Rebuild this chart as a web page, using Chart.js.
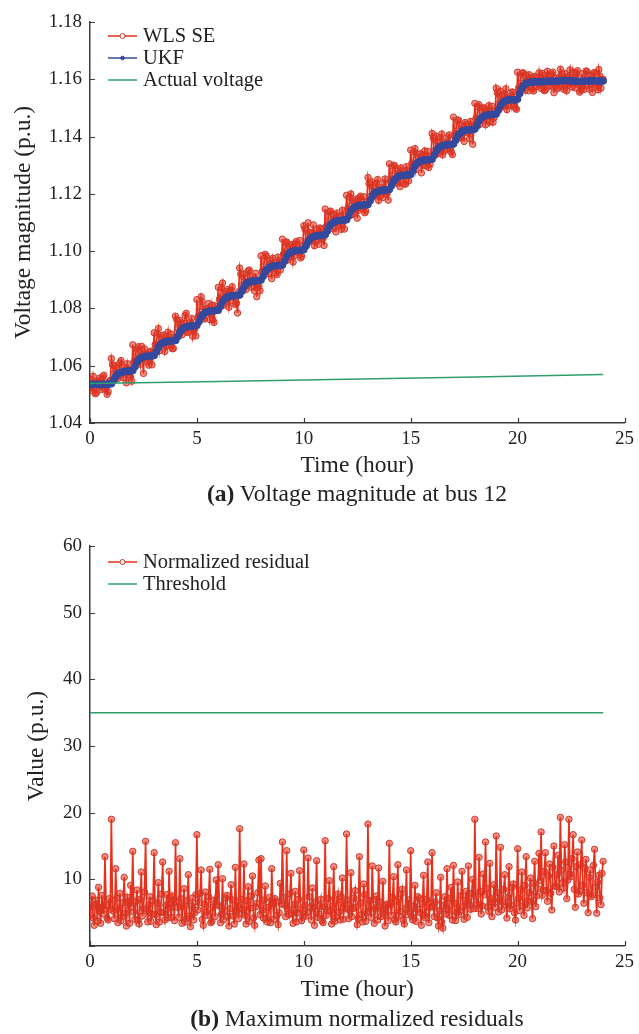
<!DOCTYPE html>
<html>
<head>
<meta charset="utf-8">
<script src="https://cdn.jsdelivr.net/npm/chart.js@4.4.1/dist/chart.umd.min.js"></script>
<style>
  body { margin: 0; background: #fff; width: 639px; height: 1034px; position: relative; overflow: hidden;
         font-family: "Liberation Serif", "Times New Roman", serif; color: #222; }
  canvas { position: absolute; left: 0; }
  #voltChart { top: 0; }
  #resChart { top: 500px; }
  .cap { position: absolute; left: 107px; width: 500px; text-align: center; font-size: 23.5px; line-height: 24px; }
</style>
</head>
<body>
<canvas id="voltChart" width="639" height="482"></canvas>
<div class="cap" style="top:481px"><b>(a)</b> Voltage magnitude at bus 12</div>
<canvas id="resChart" width="639" height="506"></canvas>
<div class="cap" style="top:1006px"><b>(b)</b> Maximum normalized residuals</div>
<script>
// sampling grids (hours): measurements every 0.05 h, UKF every 0.1 h
const fineHours = Array.from({ length: 481 }, (_, i) => i / 20);
const hours = Array.from({ length: 241 }, (_, i) => i / 10);

// WLS state estimate at bus 12 (p.u.), one row per hour
const wlsSe = [
  1.0553,1.0523,1.0513,1.0563,1.0540,1.0502,1.0505,1.0543,1.0547,1.0557,1.0527,1.0517,1.0560,1.0567,1.0520,1.0529,1.0500,1.0509,1.0545,1.0549,
  1.0625,1.0604,1.0570,1.0550,1.0600,1.0592,1.0555,1.0564,1.0610,1.0618,1.0575,1.0558,1.0595,1.0584,1.0540,1.0607,1.0588,1.0567,1.0560,1.0546,
  1.0673,1.0613,1.0618,1.0648,1.0658,1.0666,1.0628,1.0605,1.0668,1.0639,1.0573,1.0659,1.0643,1.0624,1.0613,1.0602,1.0648,1.0651,1.0603,1.0635,
  1.0715,1.0673,1.0665,1.0713,1.0730,1.0652,1.0675,1.0693,1.0705,1.0707,1.0650,1.0667,1.0690,1.0717,1.0670,1.0679,1.0710,1.0659,1.0660,1.0699,
  1.0773,1.0762,1.0733,1.0708,1.0758,1.0750,1.0708,1.0722,1.0748,1.0776,1.0783,1.0716,1.0718,1.0742,1.0753,1.0765,1.0703,1.0725,1.0728,1.0704,
  1.0831,1.0771,1.0776,1.0806,1.0841,1.0824,1.0766,1.0763,1.0801,1.0797,1.0786,1.0817,1.0761,1.0782,1.0811,1.0760,1.0751,1.0809,1.0796,1.0793,
  1.0874,1.0832,1.0834,1.0872,1.0889,1.0811,1.0819,1.0852,1.0859,1.0866,1.0804,1.0826,1.0864,1.0876,1.0839,1.0838,1.0814,1.0818,1.0784,1.0858,
  1.0941,1.0920,1.0881,1.0866,1.0921,1.0908,1.0866,1.0880,1.0931,1.0934,1.0891,1.0874,1.0911,1.0900,1.0861,1.0923,1.0841,1.0883,1.0876,1.0862,
  1.0984,1.0929,1.0929,1.0964,1.0989,1.0982,1.0939,1.0921,1.0969,1.0955,1.0904,1.0975,1.0959,1.0940,1.0924,1.0918,1.0979,1.0967,1.0934,1.0951,
  1.1042,1.0990,1.0992,1.1030,1.1032,1.0969,1.0977,1.1010,1.1017,1.1024,1.0962,1.0984,1.1027,1.1034,1.0997,1.0996,1.1037,1.0976,1.0982,1.1016,
  1.1089,1.1078,1.1034,1.1024,1.1099,1.1066,1.1039,1.1038,1.1064,1.1092,1.1019,1.1032,1.1074,1.1058,1.1024,1.1081,1.1079,1.1041,1.1044,1.1020,
  1.1147,1.1087,1.1082,1.1122,1.1137,1.1140,1.1097,1.1079,1.1127,1.1113,1.1067,1.1133,1.1122,1.1098,1.1087,1.1076,1.1142,1.1125,1.1077,1.1109,
  1.1195,1.1148,1.1145,1.1188,1.1200,1.1127,1.1130,1.1168,1.1175,1.1182,1.1115,1.1142,1.1185,1.1192,1.1150,1.1154,1.1190,1.1134,1.1140,1.1174,
  1.1257,1.1236,1.1192,1.1182,1.1242,1.1224,1.1197,1.1196,1.1237,1.1250,1.1177,1.1190,1.1222,1.1216,1.1187,1.1239,1.1252,1.1199,1.1202,1.1178,
  1.1305,1.1245,1.1250,1.1280,1.1300,1.1298,1.1240,1.1237,1.1285,1.1271,1.1225,1.1291,1.1280,1.1256,1.1235,1.1234,1.1295,1.1283,1.1245,1.1267,
  1.1353,1.1306,1.1293,1.1346,1.1358,1.1285,1.1308,1.1326,1.1338,1.1340,1.1273,1.1300,1.1333,1.1350,1.1298,1.1312,1.1348,1.1292,1.1303,1.1332,
  1.1411,1.1395,1.1351,1.1341,1.1401,1.1383,1.1341,1.1355,1.1396,1.1409,1.1336,1.1349,1.1381,1.1375,1.1356,1.1398,1.1406,1.1358,1.1346,1.1337,
  1.1468,1.1403,1.1408,1.1438,1.1458,1.1456,1.1398,1.1395,1.1438,1.1429,1.1383,1.1449,1.1443,1.1414,1.1413,1.1392,1.1453,1.1441,1.1373,1.1425,
  1.1516,1.1464,1.1456,1.1504,1.1511,1.1443,1.1461,1.1484,1.1501,1.1498,1.1441,1.1458,1.1491,1.1508,1.1451,1.1470,1.1506,1.1450,1.1466,1.1490,
  1.1569,1.1553,1.1514,1.1499,1.1559,1.1541,1.1504,1.1513,1.1549,1.1567,1.1494,1.1507,1.1539,1.1533,1.1509,1.1556,1.1554,1.1516,1.1499,1.1495,
  1.1625,1.1570,1.1570,1.1605,1.1620,1.1623,1.1580,1.1562,1.1615,1.1596,1.1560,1.1616,1.1605,1.1581,1.1565,1.1559,1.1610,1.1608,1.1575,1.1592,
  1.1623,1.1581,1.1568,1.1621,1.1613,1.1560,1.1563,1.1601,1.1628,1.1615,1.1578,1.1575,1.1618,1.1625,1.1553,1.1587,1.1603,1.1567,1.1573,1.1607,
  1.1635,1.1619,1.1575,1.1565,1.1620,1.1607,1.1560,1.1579,1.1610,1.1633,1.1585,1.1573,1.1625,1.1599,1.1570,1.1622,1.1630,1.1582,1.1555,1.1561,
  1.1619,1.1574,1.1564,1.1609,1.1629,1.1627,1.1579,1.1566,1.1614,1.1600,1.1554,1.1620,1.1624,1.1585,1.1574,1.1563,1.1634,1.1612,1.1569,1.1596,
  1.1600
];

// UKF estimate (p.u.), one row per hour
const ukf = [
  1.0535,1.0535,1.0534,1.0535,1.0535,1.0534,1.0535,1.0535,1.0535,1.0536,
  1.0537,1.0549,1.0562,1.0571,1.0575,1.0578,1.0580,1.0580,1.0581,1.0582,
  1.0583,1.0596,1.0612,1.0622,1.0628,1.0630,1.0633,1.0633,1.0634,1.0635,
  1.0636,1.0649,1.0664,1.0675,1.0680,1.0682,1.0685,1.0685,1.0686,1.0687,
  1.0688,1.0701,1.0717,1.0727,1.0733,1.0735,1.0738,1.0738,1.0739,1.0740,
  1.0741,1.0754,1.0770,1.0780,1.0786,1.0788,1.0791,1.0791,1.0792,1.0793,
  1.0794,1.0807,1.0823,1.0833,1.0839,1.0841,1.0844,1.0844,1.0845,1.0846,
  1.0847,1.0860,1.0875,1.0885,1.0891,1.0893,1.0896,1.0896,1.0897,1.0898,
  1.0899,1.0912,1.0928,1.0938,1.0944,1.0946,1.0949,1.0949,1.0950,1.0951,
  1.0952,1.0965,1.0981,1.0991,1.0997,1.0999,1.1002,1.1002,1.1003,1.1004,
  1.1005,1.1018,1.1033,1.1043,1.1049,1.1051,1.1054,1.1054,1.1055,1.1056,
  1.1057,1.1070,1.1086,1.1096,1.1102,1.1104,1.1107,1.1107,1.1108,1.1109,
  1.1110,1.1123,1.1139,1.1149,1.1155,1.1157,1.1160,1.1160,1.1161,1.1162,
  1.1163,1.1176,1.1191,1.1201,1.1207,1.1209,1.1212,1.1212,1.1213,1.1214,
  1.1215,1.1228,1.1244,1.1254,1.1260,1.1262,1.1265,1.1265,1.1266,1.1267,
  1.1268,1.1281,1.1297,1.1307,1.1313,1.1315,1.1318,1.1318,1.1319,1.1320,
  1.1321,1.1334,1.1350,1.1360,1.1366,1.1368,1.1371,1.1371,1.1372,1.1373,
  1.1374,1.1387,1.1402,1.1412,1.1418,1.1420,1.1423,1.1423,1.1424,1.1425,
  1.1426,1.1439,1.1455,1.1465,1.1471,1.1473,1.1476,1.1476,1.1477,1.1478,
  1.1479,1.1492,1.1508,1.1518,1.1524,1.1526,1.1529,1.1529,1.1528,1.1528,
  1.1531,1.1550,1.1568,1.1580,1.1586,1.1588,1.1590,1.1590,1.1591,1.1591,
  1.1591,1.1592,1.1592,1.1592,1.1593,1.1593,1.1593,1.1593,1.1594,1.1594,
  1.1595,1.1595,1.1596,1.1596,1.1595,1.1594,1.1594,1.1593,1.1593,1.1593,
  1.1593,1.1593,1.1594,1.1594,1.1595,1.1595,1.1595,1.1594,1.1594,1.1594,
  1.1594
];

// actual voltage, read at a few hours
const actualHours = [0, 6, 12, 18, 24];
const actualVoltage = [1.0538, 1.0545, 1.0553, 1.0561, 1.0569];

// maximum normalized residual, one row per hour
const residual = [
  4.6,5.8,7.5,4.2,3.1,6.9,6.3,3.7,8.8,5.2,3.4,7.6,5.9,4.8,13.4,6.1,4.2,3.9,7.1,5.5,
  19.0,6.3,5.2,4.1,11.6,7.2,3.5,5.6,7.9,3.8,4.4,6.5,10.3,4.9,3.0,7.3,6.6,3.4,9.1,5.9,
  14.2,5.1,4.0,6.7,8.4,3.9,3.3,7.0,11.1,4.5,5.6,8.1,15.7,5.3,3.6,6.2,7.4,3.7,4.8,6.8,
  14.0,4.7,3.2,6.4,9.5,3.6,5.1,7.8,12.6,5.0,3.9,6.1,7.7,4.2,11.2,5.7,4.3,7.5,6.9,3.8,
  15.5,6.6,5.8,4.3,13.1,7.1,3.4,5.9,8.6,3.6,4.1,6.8,10.7,4.5,2.9,6.0,7.2,3.9,5.0,7.7,
  16.7,5.4,6.5,7.9,11.4,4.0,3.1,6.3,8.1,5.1,4.6,7.4,11.5,3.5,3.7,5.8,6.8,4.4,9.9,6.2,
  12.2,6.0,3.5,4.8,10.1,3.9,5.3,7.2,7.6,4.4,3.0,5.6,9.2,6.9,4.5,3.3,11.8,5.2,6.0,4.1,
  17.6,7.0,4.9,5.5,12.3,4.6,3.3,6.8,8.9,3.7,5.7,7.5,10.5,4.2,3.1,5.9,6.4,8.0,12.9,4.7,
  13.1,5.3,4.2,6.9,9.0,4.1,3.6,5.8,7.3,3.5,11.6,6.4,4.0,7.1,6.7,4.6,3.2,5.0,9.4,6.3,
  15.6,7.3,6.1,4.4,14.3,5.6,4.7,7.8,10.9,4.9,3.4,6.2,8.2,3.6,5.0,7.0,11.3,5.5,3.8,4.3,
  14.4,6.1,4.5,5.0,13.2,7.4,5.9,3.9,8.7,5.7,3.1,6.6,12.8,4.3,4.8,6.0,7.0,3.8,3.5,5.9,
  15.8,4.6,5.4,7.1,9.8,5.2,3.3,6.0,11.9,3.7,4.3,6.8,7.8,5.1,3.9,7.4,10.2,4.0,6.2,5.6,
  16.8,6.9,4.1,5.3,11.0,4.4,5.6,7.2,8.3,5.8,3.2,4.1,13.4,6.5,4.7,3.6,9.3,7.7,3.7,5.0,
  18.3,5.2,6.8,4.3,12.0,7.0,3.4,5.7,7.5,3.9,11.7,6.6,4.4,5.4,9.7,4.8,3.0,6.1,6.3,3.8,
  15.4,6.2,4.6,7.3,10.4,4.0,3.6,6.7,12.2,4.5,5.2,7.8,8.5,3.9,3.3,5.6,11.4,4.7,6.9,5.1,
  14.3,4.4,3.9,6.0,9.1,3.7,5.5,7.4,7.1,5.0,3.1,6.3,10.6,4.6,4.2,7.0,12.6,3.5,5.8,6.5,
  14.0,5.9,4.4,6.6,8.0,4.2,3.0,5.3,10.3,3.6,2.7,6.1,7.4,4.8,11.6,5.5,4.6,7.2,8.8,3.9,
  12.1,6.4,3.8,5.0,9.6,4.7,5.2,7.5,11.2,5.9,4.0,6.8,8.2,4.3,12.0,6.2,5.5,7.9,10.0,5.6,
  19.0,7.4,6.3,5.6,13.3,8.2,4.8,6.0,10.8,7.7,15.6,8.6,5.9,5.2,12.4,7.1,4.4,6.5,9.2,5.8,
  16.5,8.0,5.1,6.9,14.8,5.4,6.6,8.5,10.7,6.2,4.2,7.3,11.9,5.6,6.1,8.8,9.3,5.0,3.9,6.4,
  14.6,7.2,5.3,8.4,11.1,6.0,4.6,9.1,13.4,5.7,6.8,8.0,10.2,6.6,4.1,9.4,12.7,5.9,7.5,8.6,
  13.9,9.8,17.1,7.6,8.4,11.2,14.0,8.3,6.7,10.5,12.3,7.9,5.4,11.8,15.0,9.0,8.9,10.7,13.6,8.1,
  19.3,11.4,9.5,8.7,15.2,12.6,7.1,9.9,19.0,10.8,10.4,13.1,16.7,8.5,5.8,11.9,14.1,7.8,8.2,12.2,
  15.9,9.1,6.4,11.7,13.0,8.0,5.0,10.3,11.4,7.4,7.7,12.1,14.5,8.8,4.9,9.6,10.6,7.2,6.2,10.9,
  12.7
];

const thresholdHours = [0, 24];
const thresholdValue = [35, 35];

const xTicks = [0, 5, 10, 15, 20, 25];
const voltTicks = [1.04, 1.06, 1.08, 1.10, 1.12, 1.14, 1.16, 1.18];
const resTicks = [0, 10, 20, 30, 40, 50, 60];

const AXIS = '#3a3a3a';
const SERIF = '"Liberation Serif", "Times New Roman", serif';
const RED = '#e8301a', RED_EDGE = '#cc3a2e', RED_FILL = 'rgba(232,48,26,0.55)';
const BLUE = '#34489c', GREEN = '#2f9e6b';

const pts = (xs, ys) => ys.map((v, i) => ({ x: xs[i], y: v }));

// ticks drawn inward from the axis lines
const inwardTicks = {
  id: 'inwardTicks',
  afterDraw(chart) {
    const { ctx, chartArea, scales } = chart;
    ctx.save();
    ctx.strokeStyle = AXIS;
    ctx.lineWidth = 1.2;
    ctx.beginPath();
    scales.x.ticks.forEach(t => {
      const px = Math.round(scales.x.getPixelForValue(t.value)) + 0.5;
      ctx.moveTo(px, chartArea.bottom);
      ctx.lineTo(px, chartArea.bottom - 5);
    });
    scales.y.ticks.forEach(t => {
      const py = Math.round(scales.y.getPixelForValue(t.value)) + 0.5;
      ctx.moveTo(chartArea.left, py);
      ctx.lineTo(chartArea.left + 5, py);
    });
    ctx.stroke();
    ctx.restore();
  }
};

// legend in the upper left of the plot
const innerLegend = {
  id: 'innerLegend',
  afterDraw(chart, args, opts) {
    const { ctx, chartArea } = chart;
    const x0 = chartArea.left + 18, x1 = chartArea.left + 47;
    ctx.save();
    ctx.font = '20.5px ' + SERIF;
    ctx.textBaseline = 'middle';
    chart.data.datasets.forEach((ds, i) => {
      const y = chartArea.top + opts.top + i * opts.gap;
      ctx.strokeStyle = ds.borderColor;
      ctx.lineWidth = 1.5;
      ctx.beginPath();
      ctx.moveTo(x0, y); ctx.lineTo(x1, y);
      ctx.stroke();
      if (ds.pointRadius > 0) {
        const hollow = ds.pointRadius > 2;
        ctx.beginPath();
        ctx.arc((x0 + x1) / 2, y, hollow ? 2.5 : 1.8, 0, Math.PI * 2);
        ctx.fillStyle = hollow ? '#fff' : ds.borderColor;
        ctx.fill();
        ctx.lineWidth = 1;
        ctx.strokeStyle = ds.pointBorderColor || ds.borderColor;
        ctx.stroke();
      }
      ctx.fillStyle = '#222';
      ctx.fillText(ds.label, x1 + 6, y + 1);
    });
    ctx.restore();
  }
};

function makeOptions(cfg) {
  return {
    responsive: false,
    animation: false,
    layout: { padding: { top: cfg.padTop, right: 14, left: 0, bottom: 0 } },
    plugins: {
      legend: { display: false },
      tooltip: { enabled: false },
      innerLegend: { top: cfg.legendTop, gap: cfg.legendGap }
    },
    scales: {
      x: {
        type: 'linear', min: 0, max: 25,
        afterBuildTicks: s => { s.ticks = xTicks.map(v => ({ value: v })); },
        afterFit: s => { s.height = cfg.xHeight; },
        grid: { display: false, drawTicks: false },
        border: { display: true, color: AXIS, width: 1.5 },
        ticks: { color: '#222', font: { family: SERIF, size: 19 }, padding: 5, maxRotation: 0 },
        title: { display: true, text: 'Time (hour)', color: '#222',
                 font: { family: SERIF, size: 23.5 }, padding: { top: 0, bottom: 2 } }
      },
      y: {
        type: 'linear', min: cfg.ymin, max: cfg.ymax,
        afterBuildTicks: s => { s.ticks = cfg.yTicks.map(v => ({ value: v })); },
        afterFit: s => { s.width = 90; },
        grid: { display: false, drawTicks: false },
        border: { display: true, color: AXIS, width: 1.5 },
        ticks: { color: '#222', font: { family: SERIF, size: 19 }, padding: 8, callback: cfg.yFmt },
        title: { display: true, text: cfg.yTitle, color: '#222',
                 font: { family: SERIF, size: 23.5 }, padding: { top: cfg.yTitlePad, bottom: 0 } }
      }
    }
  };
}

new Chart(document.getElementById('voltChart'), {
  type: 'line',
  data: {
    datasets: [
      { label: 'WLS SE', data: pts(fineHours, wlsSe), borderColor: RED, borderWidth: 1.7,
        pointRadius: 3.2, pointBorderColor: RED_EDGE, pointBackgroundColor: RED_FILL,
        pointBorderWidth: 1, order: 3 },
      { label: 'UKF', data: pts(hours, ukf), borderColor: BLUE, borderWidth: 4,
        pointRadius: 1.8, pointBackgroundColor: BLUE, pointBorderColor: BLUE, order: 2 },
      { label: 'Actual voltage', data: pts(actualHours, actualVoltage), borderColor: GREEN,
        borderWidth: 1.5, pointRadius: 0, order: 1 }
    ]
  },
  options: makeOptions({
    padTop: 22, xHeight: 59, ymin: 1.04, ymax: 1.18, yTicks: voltTicks,
    yFmt: v => v.toFixed(2), yTitle: 'Voltage magnitude (p.u.)', yTitlePad: 10,
    legendTop: 14, legendGap: 22
  }),
  plugins: [inwardTicks, innerLegend]
});

new Chart(document.getElementById('resChart'), {
  type: 'line',
  data: {
    datasets: [
      { label: 'Normalized residual', data: pts(fineHours, residual), borderColor: RED, borderWidth: 1.7,
        pointRadius: 3.2, pointBorderColor: RED_EDGE, pointBackgroundColor: RED_FILL,
        pointBorderWidth: 1, order: 2 },
      { label: 'Threshold', data: pts(thresholdHours, thresholdValue), borderColor: GREEN,
        borderWidth: 1.5, pointRadius: 0, order: 1 }
    ]
  },
  options: makeOptions({
    padTop: 46, xHeight: 60, ymin: 0, ymax: 60, yTicks: resTicks,
    yFmt: v => (v === 0 ? '' : v), yTitle: 'Value (p.u.)', yTitlePad: 23,
    legendTop: 16, legendGap: 22
  }),
  plugins: [inwardTicks, innerLegend]
});
</script>
</body>
</html>
